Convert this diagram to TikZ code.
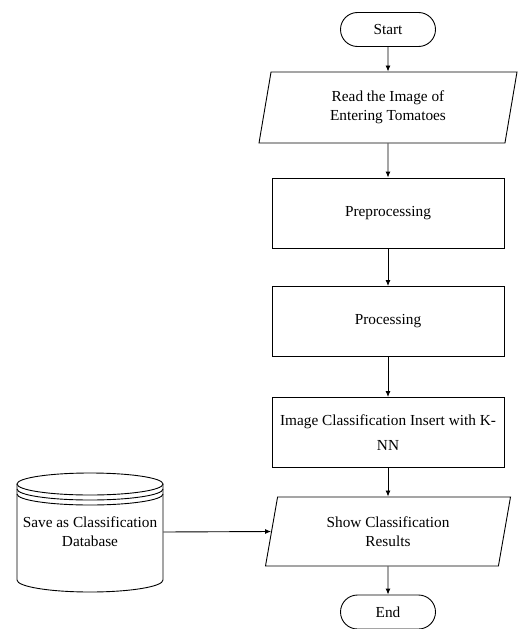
\documentclass[tikz,border=0pt]{standalone}
\usepackage{fontspec}
\setmainfont{Liberation Serif}
\usetikzlibrary{shapes.geometric,shapes.misc,arrows.meta}

\newlength{\du}
\setlength{\du}{1pt}

\definecolor{dialinecolor}{rgb}{0.000000, 0.000000, 0.000000}
\definecolor{diafillcolor}{rgb}{1.000000, 1.000000, 1.000000}

\tikzset{
  diaterm/.style={draw=dialinecolor, fill=diafillcolor, rounded rectangle, minimum width=95\du, minimum height=34\du, inner sep=0pt},
  diabox/.style={draw=dialinecolor, fill=diafillcolor, rectangle, minimum width=232\du, minimum height=70\du, align=center, inner sep=0pt},
  diaio/.style={draw=dialinecolor, fill=diafillcolor, trapezium, trapezium stretches body=true, align=center, inner sep=0pt},
  diaarrow/.style={draw=dialinecolor, -{Latex[length=6pt,width=5pt]}},
}

\begin{document}
\begin{tikzpicture}[line width=0.9\du, font=\fontsize{15.3pt}{19pt}\selectfont]
\pgftransformxscale{1.000000}
\pgftransformyscale{-1.000000}
\useasboundingbox (0\du,0\du) rectangle (521\du,629\du);
% main column
\node[diaterm] (start) at (388\du,29.5\du) {Start};
\node[diaio, trapezium left angle=70, trapezium right angle=110, minimum width=258\du, minimum height=71\du] (read) at (388\du,107.5\du) {Read the Image of\\Entering Tomatoes};
\node[diabox] (prep) at (388\du,213\du) {Preprocessing};
\node[diabox] (proc) at (388\du,321.5\du) {Processing};
\node[diabox, font=\fontsize{15.3pt}{25pt}\selectfont] (classify) at (388\du,432.5\du) {Image Classification Insert with K-\\NN};
\node[diaio, trapezium left angle=68, trapezium right angle=112, minimum width=245\du, minimum height=69\du] (show) at (388\du,531.5\du) {Show Classification\\Results};
\node[diaterm] (end) at (388\du,612\du) {End};
% database
\draw[draw=dialinecolor] (17\du,484\du) -- (17\du,580\du) arc[start angle=180, end angle=0, x radius=73\du, y radius=12\du] -- (163\du,484\du);
\draw[draw=dialinecolor] (90\du,484\du) ellipse[x radius=73\du, y radius=11\du];
\draw[draw=dialinecolor] (17\du,489\du) arc[start angle=180, end angle=0, x radius=73\du, y radius=11\du];
\draw[draw=dialinecolor] (17\du,494\du) arc[start angle=180, end angle=0, x radius=73\du, y radius=11\du];
\node[align=center, minimum width=146\du, minimum height=96\du, inner sep=0pt] (db) at (90\du,532\du) {Save as Classification\\Database};
% connectors
\draw[diaarrow] (start) -- (read);
\draw[diaarrow] (read) -- (prep);
\draw[diaarrow] (prep) -- (proc);
\draw[diaarrow] (proc) -- (classify);
\draw[diaarrow] (classify) -- (show);
\draw[diaarrow] (show) -- (end);
\draw[diaarrow] (db.east) -- (show.west);
\end{tikzpicture}
\end{document}
